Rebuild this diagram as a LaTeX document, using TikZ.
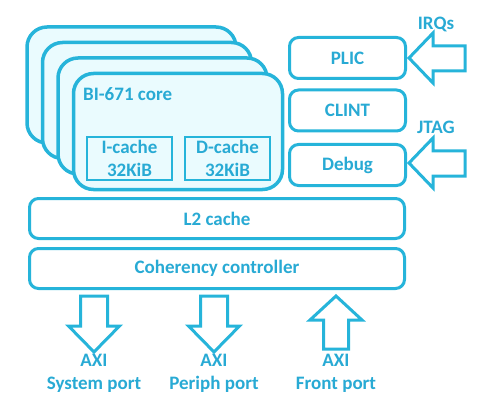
\documentclass[tikz,border=0pt]{standalone}
\usepackage{fontspec}
\setmainfont{Carlito}
\definecolor{cyanline}{RGB}{38,180,218}
\definecolor{cyanfill}{RGB}{234,251,254}
\definecolor{cyantext}{RGB}{40,170,212}
\tikzset{
  card/.style={draw=cyanline, line width=3.5pt, rounded corners=20pt, fill=cyanfill},
  blk/.style={draw=cyanline, line width=3pt, rounded corners=9pt, fill=white, text=cyantext,
    font=\bfseries\fontsize{19}{23}\selectfont},
  cachebox/.style={draw=cyanline, line width=1.6pt, fill=cyanfill, align=center, text=cyantext,
    minimum width=85pt, minimum height=43pt, inner sep=0pt, font=\bfseries\fontsize{19}{23}\selectfont},
  lbl/.style={text=cyantext, align=center, font=\bfseries\fontsize{19}{23}\selectfont},
  bigarrow/.style={draw=cyanline, line width=3pt, fill=white, line join=miter}
}
\begin{document}
\begin{tikzpicture}[x=1pt,y=-1pt]
    \useasboundingbox (0,0) rectangle (480,404);
    % stack of cores
    \foreach \d in {0,15.5,31,46.5}
        \draw[card] (27+\d,27+\d) rectangle ++(209,116);
    \node[lbl, anchor=west, inner sep=0pt] (core) at (83,94) {BI-671 core};
    \node[cachebox] (icache) at (129.5,158.5) {I-cache\\32KiB};
    \node[cachebox] (dcache) at (227.5,158.5) {D-cache\\32KiB};
    % right column
    \node[blk, minimum width=116pt, minimum height=41pt] (plic) at (347.5,58) {PLIC};
    \node[blk, minimum width=116pt, minimum height=41pt] (clint) at (347.5,110.5) {CLINT};
    \node[blk, minimum width=116pt, minimum height=41pt] (debug) at (347.5,165) {Debug};
    % shared blocks
    \node[blk, minimum width=375pt, minimum height=40pt] (l2) at (217,218.5) {L2 cache};
    \node[blk, minimum width=375pt, minimum height=40pt] (coh) at (217,268.5) {Coherency controller};
    % ports
    \draw[bigarrow] (409,58) -- (433,33) -- (433,46) -- (465,46) -- (465,71) -- (433,71) -- (433,83) -- cycle;
    \draw[bigarrow] (409,163) -- (433,138) -- (433,151) -- (465,151) -- (465,176) -- (433,176) -- (433,188) -- cycle;
    \node[lbl] (irq) at (436,24) {IRQs};
    \node[lbl] (jtag) at (436,127) {JTAG};
    \foreach \c in {94,214}
        \draw[bigarrow] (\c-13.5,296) -- (\c+13.5,296) -- (\c+13.5,326) -- (\c+25.5,326)
            -- (\c,352) -- (\c-25.5,326) -- (\c-13.5,326) -- cycle;
    \draw[bigarrow] (336,296) -- (362,320) -- (348.5,320) -- (348.5,349) -- (323.5,349)
        -- (323.5,320) -- (310,320) -- cycle;
    \node[lbl] (sysport) at (94,373.5) {AXI\\System port};
    \node[lbl] (perport) at (214,373.5) {AXI\\Periph port};
    \node[lbl] (frontport) at (336,373.5) {AXI\\Front port};
\end{tikzpicture}
\end{document}
